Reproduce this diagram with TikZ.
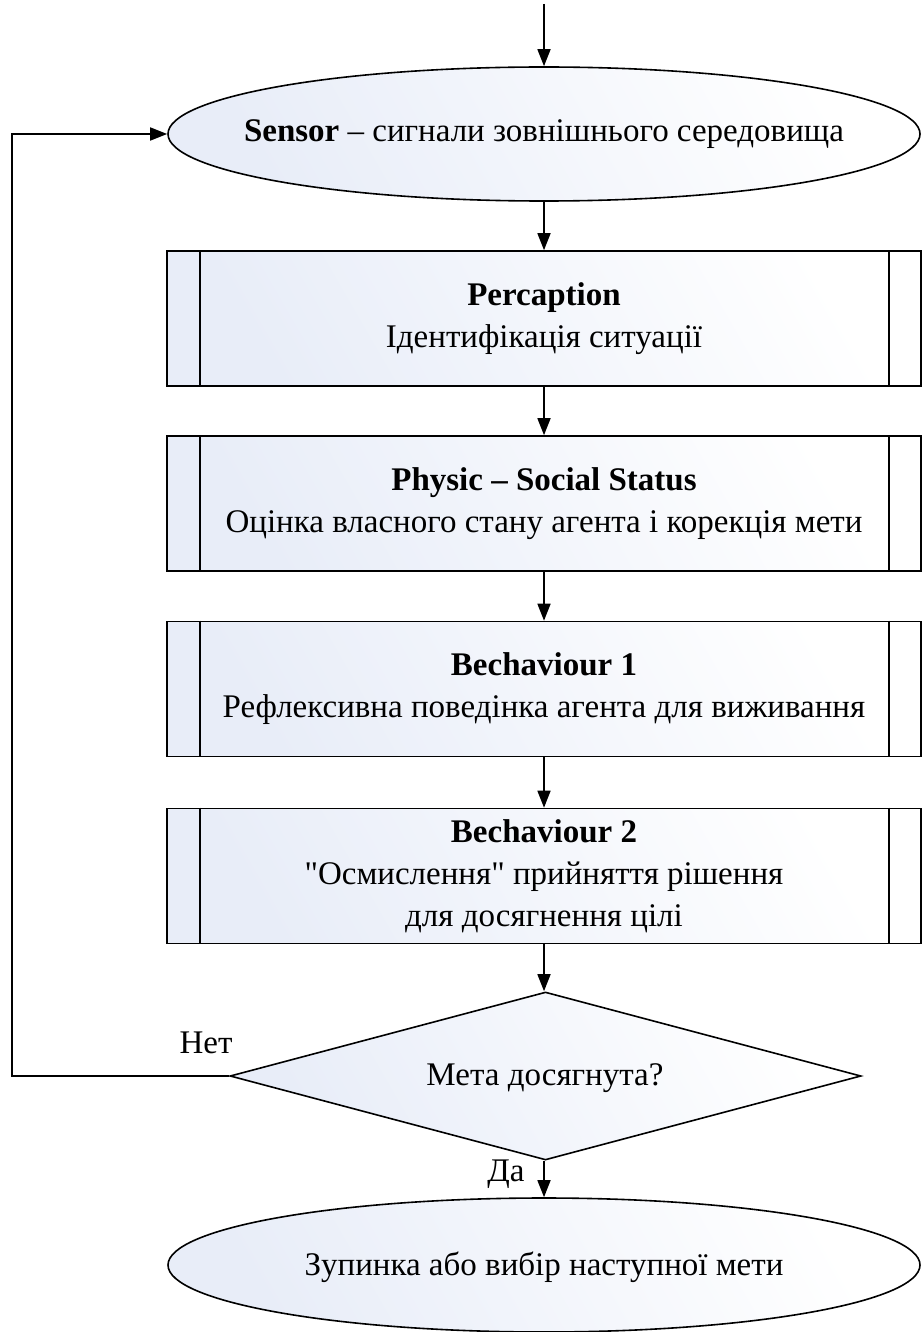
\documentclass[tikz,border=0pt]{standalone}
\usepackage{fontspec}
\setmainfont{Liberation Serif}[Ligatures=TeXOff]
\usetikzlibrary{shapes.geometric,arrows.meta}
\definecolor{fillA}{HTML}{E8EDF8}
\begin{document}
\begin{tikzpicture}[x=1pt,y=-1pt,
  every node/.style={font=\fontsize{33}{42}\selectfont},
  shadefill/.style={draw=black,line width=1.6pt,shading=axis,left color=fillA,right color=white,shading angle=120},
  procbox/.style={shadefill,rectangle,minimum width=754pt,minimum height=135pt,inner sep=0pt,align=center},
  termin/.style={shadefill,ellipse,minimum width=752pt,minimum height=134pt,inner sep=0pt},
  decis/.style={shadefill,diamond,minimum width=631pt,minimum height=168pt,inner sep=0pt},
  txt/.style={inner sep=0pt,align=center},
  conn/.style={line width=1.6pt,-{Triangle[length=17pt,width=13pt]}},
  bar/.style={line width=1.6pt}]
\useasboundingbox (0,0) rectangle (923,1332);

\coordinate (start) at (544,4);
\node[termin] (sensor) at (544,134) {};
\node[txt] (sensortxt) at (544,134) {\textbf{Sensor} – сигнали зовнішнього середовища};

\node[procbox] (b1) at (544,318.5) {\textbf{Percaption}\\Ідентифікація ситуації};
\node[procbox] (b2) at (544,503.5) {\textbf{Physic – Social Status}\\Оцінка власного стану агента і корекція мети};
\node[procbox] (b3) at (544,689) {\textbf{Bechaviour 1}\\Рефлексивна поведінка агента для виживання};
\node[procbox] (b4) at (544,876) {\textbf{Bechaviour 2}\\"Осмислення" прийняття рішення\\для досягнення цілі};

\foreach \b in {b1,b2,b3,b4}{
  \draw[bar] ([xshift=34pt]\b.north west) -- ([xshift=34pt]\b.south west);
  \draw[bar] ([xshift=-33pt]\b.north east) -- ([xshift=-33pt]\b.south east);
}

\node[decis] (dec) at (545.5,1076) {};
\node[txt] (dectxt) at (545,1078) {Мета досягнута?};

\node[termin] (fin) at (544,1265) {};
\node[txt] (fintxt) at (544,1267) {Зупинка або вибір наступної мети};

\node[txt] (net) at (206,1043) {Нет};
\node[txt] (da) at (506,1174) {Да};

\coordinate (lpb) at (12,1076);
\coordinate (lpt) at (12,134);

\draw[conn] (start) -- (sensor.north);
\draw[conn] (sensor.south) -- (b1.north);
\draw[conn] (b1.south) -- (b2.north);
\draw[conn] (b2.south) -- (b3.north);
\draw[conn] (b3.south) -- (b4.north);
\draw[conn] (b4.south) -- (dec.north -| b4.south);
\draw[conn] (dec.south -| fin.north) -- (fin.north);
\draw[conn] (dec.west) -- (lpb) -- (lpt) -- (sensor.west);
\end{tikzpicture}
\end{document}
